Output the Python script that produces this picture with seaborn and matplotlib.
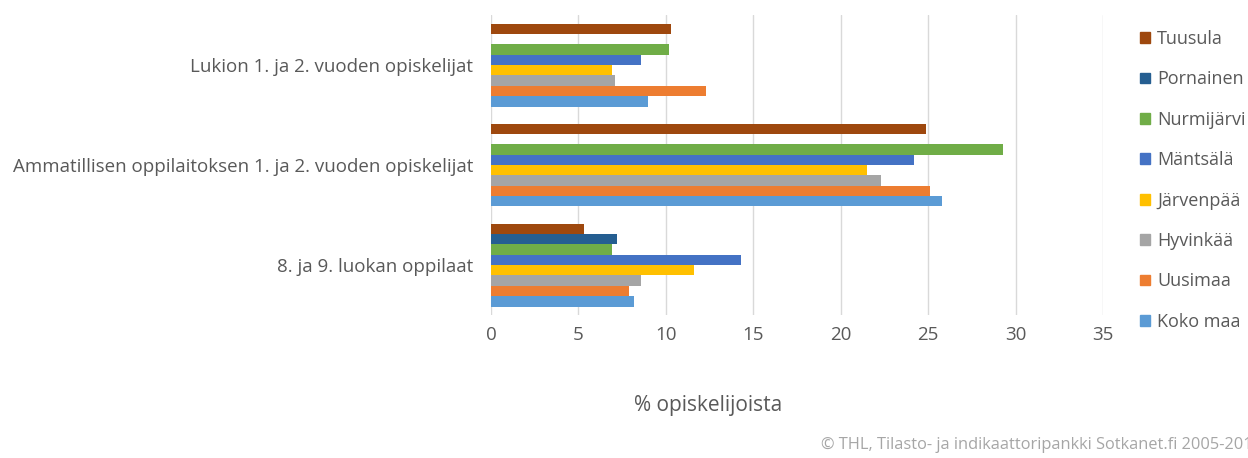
import seaborn as sns
import matplotlib.pyplot as plt
import matplotlib.patches as mpatches
import pandas as pd

# data
groups = ["Lukion 1. ja 2. vuoden opiskelijat",
          "Ammatillisen oppilaitoksen 1. ja 2. vuoden opiskelijat",
          "8. ja 9. luokan oppilaat"]
areas = ["Tuusula", "Pornainen", "Nurmijärvi", "Mäntsälä",
         "Järvenpää", "Hyvinkää", "Uusimaa", "Koko maa"]
tuusula = [10.3, 24.9, 5.3]
pornainen = [None, None, 7.2]
nurmijarvi = [10.2, 29.3, 6.9]
mantsala = [8.6, 24.2, 14.3]
jarvenpaa = [6.9, 21.5, 11.6]
hyvinkaa = [7.1, 22.3, 8.6]
uusimaa = [12.3, 25.1, 7.9]
koko_maa = [9.0, 25.8, 8.2]
colors = ["#9E480E", "#255E91", "#70AD47", "#4472C4",
          "#FFC000", "#A5A5A5", "#ED7D31", "#5B9BD5"]

series = [tuusula, pornainen, nurmijarvi, mantsala,
          jarvenpaa, hyvinkaa, uusimaa, koko_maa]
rows = []
for area, vals in zip(areas, series):
    for g, v in zip(groups, vals):
        rows.append({"group": g, "area": area, "value": v})
df = pd.DataFrame(rows)

sns.set_style("white")
plt.rcParams["font.family"] = ["Open Sans", "DejaVu Sans"]
txt = "#595959"

fig = plt.figure(figsize=(12.48, 4.58), dpi=100)
ax = fig.add_axes([491 / 1248, 1 - 315 / 458, (1103 - 491) / 1248, 300 / 458])
sns.barplot(data=df, y="group", x="value", hue="area", order=groups,
            hue_order=areas, palette=colors, orient="h", width=0.83,
            saturation=1, linewidth=0, legend=False, ax=ax)

ax.set_xlim(0, 35)
ax.set_xticks(range(0, 36, 5))
ax.grid(axis="x", color="#D9D9D9", linewidth=1)
ax.set_axisbelow(True)
for s in ax.spines.values():
    s.set_visible(False)
ax.tick_params(length=0, labelsize=13.5, colors=txt)
ax.tick_params(axis="x", pad=8)
ax.tick_params(axis="y", pad=13)
ax.set_ylabel("")
ax.set_xlabel("")
fig.text(708 / 1248, 1 - 405 / 458, "% opiskelijoista", fontsize=15,
         color=txt, ha="center", va="center")

handles = [mpatches.Patch(color=c, label=a) for a, c in zip(areas, colors)]
fig.legend(handles=handles, loc="upper left",
           bbox_to_anchor=(1140 / 1248, 1 - 30 / 458), frameon=False,
           borderpad=0, borderaxespad=0,
           fontsize=13, labelcolor=txt, handlelength=0.55, handleheight=0.55,
           handletextpad=0.4, labelspacing=1.24)

fig.text(821 / 1248, 1 - 445 / 458,
         "© THL, Tilasto- ja indikaattoripankki Sotkanet.fi 2005-2019",
         fontsize=11.8, color="#A6A6A6", ha="left", va="center")

fig.savefig("out.png", dpi=100)
